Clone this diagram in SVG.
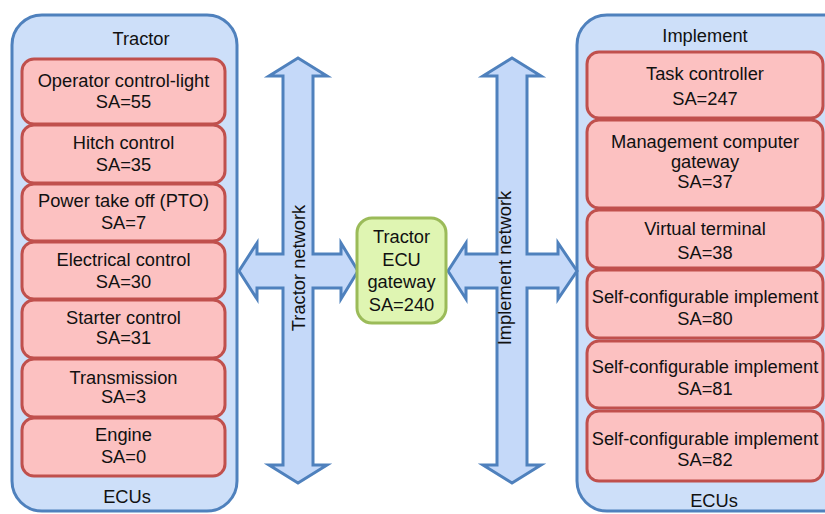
<svg xmlns="http://www.w3.org/2000/svg" width="825" height="514" viewBox="0 0 825 514">
<style>
text{font-family:"Liberation Sans",Arial,sans-serif;font-size:18.3px;fill:#111;text-anchor:middle}
.panel{fill:#cddff9;stroke:#4f81bd;stroke-width:3}
.ecu{fill:#fcc1c1;stroke:#c0504d;stroke-width:3}
.gw{fill:#dff5b2;stroke:#9bbb59;stroke-width:3}
.arrow{fill:#c5d9f9;stroke:#4f81bd;stroke-width:3}
</style>
<rect width="825" height="514" fill="#fff"/>
<g id="tractor-panel">
<rect class="panel" x="12" y="15" width="225" height="496" rx="30"/>
<text x="141" y="45">Tractor</text>
<text x="127" y="503">ECUs</text>
</g>
<g id="implement-panel">
<rect class="panel" x="577" y="15" width="280" height="496" rx="30"/>
<text x="705" y="42">Implement</text>
<text x="714" y="507">ECUs</text>
</g>
<g id="connectors">
<polygon class="arrow" points="298,58 327,76 313,76 313,254 341,254 341,243 358,271 341,299 341,288 313,288 313,465 327,465 298,483 269,465 283,465 283,288 257,288 257,299 239,271 257,243 257,254 283,254 283,76 269,76"/>
<text transform="translate(305,268) rotate(-90)" x="0" y="0">Tractor network</text>
<polygon class="arrow" points="512,58 541,76 527,76 527,254 558,254 558,243 577,271 558,299 558,288 527,288 527,465 541,465 512,483 483,465 497,465 497,288 466,288 466,299 448,271 466,243 466,254 497,254 497,76 483,76"/>
<text transform="translate(511,268) rotate(-90)" x="0" y="0">Implement network</text>
</g>
<g id="operator-control-light"><rect class="ecu" x="22" y="59" width="203" height="65" rx="12"/><text x="123.5" y="87">Operator control-light</text><text x="123.5" y="108">SA=55</text></g>
<g id="hitch-control"><rect class="ecu" x="22" y="125" width="203" height="58" rx="12"/><text x="123.5" y="149">Hitch control</text><text x="123.5" y="171">SA=35</text></g>
<g id="pto"><rect class="ecu" x="22" y="184" width="203" height="57" rx="12"/><text x="123.5" y="207">Power take off (PTO)</text><text x="123.5" y="229">SA=7</text></g>
<g id="electrical-control"><rect class="ecu" x="22" y="242" width="203" height="57" rx="12"/><text x="123.5" y="266">Electrical control</text><text x="123.5" y="288">SA=30</text></g>
<g id="starter-control"><rect class="ecu" x="22" y="300" width="203" height="58" rx="12"/><text x="123.5" y="324">Starter control</text><text x="123.5" y="344">SA=31</text></g>
<g id="transmission"><rect class="ecu" x="22" y="359" width="203" height="58" rx="12"/><text x="123.5" y="384">Transmission</text><text x="123.5" y="403">SA=3</text></g>
<g id="engine"><rect class="ecu" x="22" y="418" width="203" height="58" rx="12"/><text x="123.5" y="441">Engine</text><text x="123.5" y="463">SA=0</text></g>
<g id="task-controller"><rect class="ecu" x="587" y="52" width="236" height="66" rx="12"/><text x="705" y="80">Task controller</text><text x="705" y="105">SA=247</text></g>
<g id="management-gateway"><rect class="ecu" x="587" y="120" width="236" height="88" rx="12"/><text x="705" y="148">Management computer</text><text x="705" y="168">gateway</text><text x="705" y="188">SA=37</text></g>
<g id="virtual-terminal"><rect class="ecu" x="587" y="210" width="236" height="58" rx="12"/><text x="705" y="235">Virtual terminal</text><text x="705" y="259">SA=38</text></g>
<g id="sci-80"><rect class="ecu" x="587" y="270" width="236" height="68" rx="12"/><text x="705" y="303">Self-configurable implement</text><text x="705" y="325">SA=80</text></g>
<g id="sci-81"><rect class="ecu" x="587" y="341" width="236" height="67" rx="12"/><text x="705" y="373">Self-configurable implement</text><text x="705" y="395">SA=81</text></g>
<g id="sci-82"><rect class="ecu" x="587" y="411" width="236" height="70" rx="12"/><text x="705" y="445">Self-configurable implement</text><text x="705" y="466">SA=82</text></g>
<g id="tractor-ecu-gateway"><rect class="gw" x="357" y="218" width="89" height="105" rx="15"/><text x="401.5" y="243">Tractor</text><text x="401.5" y="266">ECU</text><text x="401.5" y="288">gateway</text><text x="401.5" y="311">SA=240</text></g>
</svg>
